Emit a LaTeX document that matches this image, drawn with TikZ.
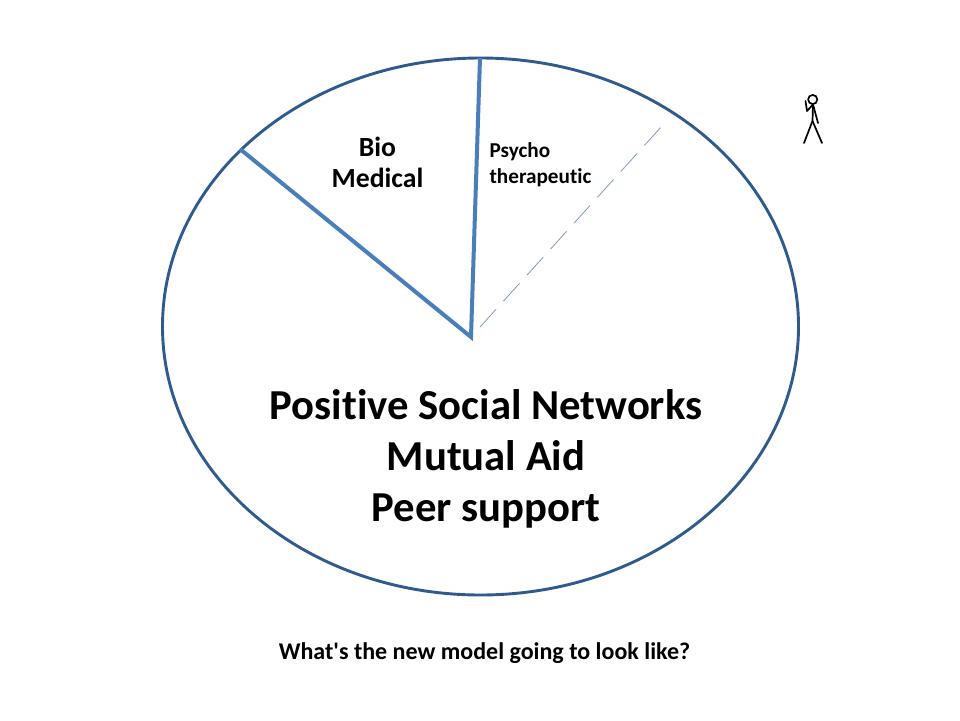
\documentclass[tikz,border=0pt]{standalone}
\usepackage{fontspec}
\setmainfont[Ligatures=NoCommon]{Carlito}
\definecolor{ringblue}{HTML}{2F5A8E}
\definecolor{spokeblue}{HTML}{4A7EBB}
\definecolor{dashblue}{HTML}{7F9BBF}
\tikzset{
  ring/.style={draw=ringblue,line width=2.9pt},
  spoke/.style={draw=spokeblue,line width=4pt},
  dashspoke/.style={draw=dashblue,line width=0.8pt,dash pattern=on 24pt off 11pt},
  stick/.style={draw=black,line width=1.7pt,line cap=round,line join=round},
  bigtext/.style={font=\fontsize{42.7}{51}\selectfont\bfseries,align=center,inner sep=0pt},
  midtext/.style={font=\fontsize{27.7}{31}\selectfont\bfseries,align=center,inner sep=0pt},
  smalltext/.style={font=\fontsize{21.2}{26}\selectfont\bfseries,align=left,inner sep=0pt},
  captext/.style={font=\fontsize{24}{27}\selectfont\bfseries,inner sep=0pt}
}
\begin{document}
\begin{tikzpicture}[x=1pt,y=-1pt]
\useasboundingbox (0,0) rectangle (960,720);
\fill[white] (0,0) rectangle (960,720);
\draw[ring] (480.5,326.5) ellipse [x radius=318,y radius=268.5];
\coordinate (hub) at (471,337);
\coordinate (top) at (480,58);
\coordinate (left) at (240,149);
\coordinate (dashstart) at (480,327);
\coordinate (dashend) at (662,126);
\draw[spoke,line join=miter] (left) -- (hub) -- (top);
\draw[dashspoke] (dashstart) -- (dashend);
\node[midtext] (bio) at (377.5,162) {Bio\\Medical};
\node[smalltext] (psy) at (540.5,165) {Psycho\\therapeutic};
\node[bigtext] (main) at (486,459) {Positive Social Networks\\Mutual Aid\\Peer support};
\node[captext] (cap) at (484.5,653) {What\textquotesingle s the new model going to look like?};
\draw[stick] (812.7,99.5) circle [radius=4.6];
\coordinate (neck) at (813,104.5);
\coordinate (hip) at (812.5,121);
\draw[stick] (neck) -- (hip) -- (804,143);
\draw[stick] (hip) -- (822,143);
\draw[stick] (neck) -- (818,123);
\draw[stick] (neck) -- (807,111) -- (805.5,101);
\end{tikzpicture}
\end{document}
